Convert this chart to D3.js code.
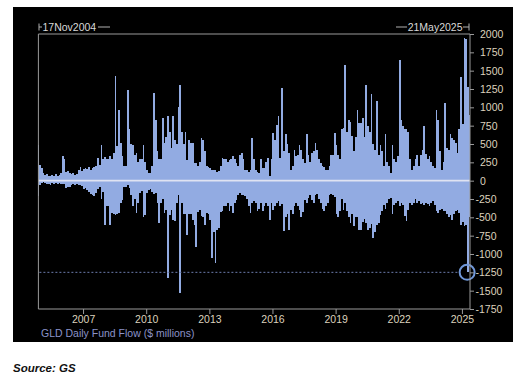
<!DOCTYPE html>
<html>
<head>
<meta charset="utf-8">
<script src="https://cdn.jsdelivr.net/npm/d3@7"></script>
<style>
  body { margin: 0; background: #fff; }
  svg { display: block; font-family: "Liberation Sans", Arial, sans-serif; }
</style>
</head>
<body>
<svg id="chart" width="527" height="388"></svg>
<script>
// GLD daily fund flow, $ millions. Read off the picture as the biggest
// inflow and the biggest outflow inside each month, Nov 2004 .. May 2025.
var firstDay = new Date(2004, 10, 17);
var lastDay = new Date(2025, 4, 21);

var inflowPeak = [
  480, 220,                                                       // 2004
  170, 100, 80, 90, 70, 60, 80, 60, 90, 70, 80, 100,              // 2005
  330, 300, 120, 130, 100, 90, 100, 80, 90, 150, 190, 130,        // 2006
  160, 170, 160, 190, 150, 170, 190, 200, 310, 220, 480, 290,     // 2007
  320, 300, 290, 330, 300, 380, 1430, 470, 970, 520, 330, 200,    // 2008
  200, 1230, 700, 500, 490, 350, 380, 250, 290, 300, 490, 250,    // 2009
  150, 100, 110, 200, 1200, 830, 400, 290, 290, 860, 510, 600,    // 2010
  880, 670, 450, 880, 560, 500, 1010, 1300, 670, 500, 670, 280,   // 2011
  560, 520, 510, 240, 240, 200, 250, 580, 560, 400, 200, 180,     // 2012
  170, 150, 140, 150, 120, 130, 200, 310, 290, 290, 250, 280,     // 2013
  300, 330, 300, 240, 200, 350, 380, 300, 150, 150, 120, 150,     // 2014
  580, 300, 150, 120, 100, 290, 170, 170, 250, 310, 60, 300,      // 2015
  650, 560, 760, 880, 310, 1270, 400, 630, 500, 380, 150, 200,    // 2016
  420, 330, 350, 490, 420, 300, 240, 640, 350, 250, 380, 400,     // 2017
  510, 420, 300, 240, 200, 180, 150, 140, 200, 350, 350, 650,     // 2018
  490, 350, 300, 700, 720, 1580, 670, 830, 800, 610, 400, 600,    // 2019
  970, 790, 790, 860, 600, 1300, 750, 670, 1180, 500, 420, 1080,  // 2020
  350, 490, 400, 200, 630, 250, 200, 100, 490, 300, 250, 330,     // 2021
  1640, 830, 740, 700, 700, 670, 300, 150, 200, 300, 350, 200,    // 2022
  350, 420, 740, 370, 300, 330, 260, 200, 170, 970, 830, 400,     // 2023
  150, 250, 1060, 450, 420, 630, 580, 550, 510, 380, 700, 1420,   // 2024
  770, 1950, 1930, 1280, 900                                      // 2025
];

var outflowPeak = [
  -215, -60,                                                          // 2004
  -30, -20, -30, -40, -40, -60, -30, -40, -30, -40, -30, -40,         // 2005
  -40, -50, -100, -90, -80, -60, -50, -60, -50, -60, -60, -70,        // 2006
  -110, -100, -130, -150, -180, -200, -215, -170, -120, -80, -250, -160,
  -600, -340, -340, -600, -440, -460, -470, -450, -440, -300, -260, -90,
  -80, -60, -100, -200, -350, -250, -440, -300, -170, -140, -490, -470,
  -170, -130, -120, -150, -180, -170, -300, -580, -300, -250, -440, -400,
  -1330, -470, -400, -530, -550, -300, -200, -1530, -300, -460, -460, -740,
  -460, -460, -530, -600, -900, -430, -400, -480, -500, -600, -440, -450,
  -530, -1060, -700, -1120, -670, -650, -430, -420, -350, -350, -300, -420,
  -350, -440, -300, -260, -200, -170, -190, -200, -210, -250, -350, -440,
  -300, -280, -300, -420, -380, -300, -420, -350, -300, -350, -530, -300,
  -400, -350, -310, -280, -350, -320, -690, -490, -450, -670, -400, -450,
  -350, -300, -350, -400, -490, -430, -260, -300, -240, -200, -260, -300,
  -200, -180, -250, -300, -380, -420, -350, -300, -200, -180, -200, -220,
  -460, -490, -420, -250, -400, -300, -420, -500, -580, -450, -620, -500,
  -490, -670, -670, -560, -520, -580, -670, -650, -590, -780, -700, -610,
  -580, -470, -420, -330, -380, -300, -250, -230, -460, -330, -300, -280,
  -350, -300, -330, -480, -550, -400, -300, -330, -300, -250, -300, -280,
  -320, -300, -330, -300, -320, -350, -300, -280, -330, -420, -440, -400,
  -380, -420, -420, -450, -500, -470, -530, -450, -420, -400, -440, -600,
  -560, -620, -600, -1250, -500                                       // 2025
];

var yTicks = [2000, 1750, 1500, 1250, 1000, 750, 500, 250, 0,
  -250, -500, -750, -1000, -1250, -1500, -1750];
var yearTicks = [2007, 2010, 2013, 2016, 2019, 2022, 2025];
var markLevel = -1250;
var markDate = new Date(2025, 3, 10);
var seriesLabel = 'GLD Daily Fund Flow ($ millions)';

function drawChart() {
  var months = d3.timeMonth.range(d3.timeMonth.floor(firstDay), lastDay);

  var svg = d3.select('#chart');

  // Black panel behind the chart.
  svg.append('rect')
    .attr('x', 13).attr('y', 7)
    .attr('width', 500).attr('height', 335)
    .attr('fill', '#000');

  var plotLeft = 38.4, plotRight = 470, plotTop = 34, plotBottom = 309;

  var x = d3.scaleTime()
    .domain([firstDay, lastDay])
    .range([plotLeft, plotRight]);

  var y = d3.scaleLinear()
    .domain([-1750, 2000])
    .range([plotBottom, plotTop]);

  var barColor = '#92abe2';

  function barX(d) {
    return x(d < firstDay ? firstDay : d);
  }
  function barW(d) {
    var end = d3.timeMonth.offset(d, 1);
    if (end > lastDay) end = lastDay;
    return Math.max(1, x(end) - barX(d));
  }

  // crispEdges keeps the neighbouring bars from leaving seams between them.
  var bars = svg.append('g')
    .attr('class', 'bars')
    .attr('shape-rendering', 'crispEdges');

  bars.selectAll('rect.up')
    .data(months)
    .enter().append('rect')
      .attr('class', 'up')
      .attr('x', barX)
      .attr('width', barW)
      .attr('y', function(d, i) { return y(inflowPeak[i]); })
      .attr('height', function(d, i) { return y(0) - y(inflowPeak[i]); })
      .attr('fill', barColor);

  bars.selectAll('rect.down')
    .data(months)
    .enter().append('rect')
      .attr('class', 'down')
      .attr('x', barX)
      .attr('width', barW)
      .attr('y', y(0))
      .attr('height', function(d, i) { return y(outflowPeak[i]) - y(0); })
      .attr('fill', barColor);

  // Zero line.
  svg.append('line')
    .attr('x1', plotLeft).attr('x2', plotRight)
    .attr('y1', y(0)).attr('y2', y(0))
    .attr('stroke', '#dfe3f2').attr('stroke-width', 1.8);

  // Dashed level and the circle on the latest outflow.
  svg.append('line')
    .attr('x1', plotLeft + 1).attr('x2', x(markDate) - 8)
    .attr('y1', y(markLevel)).attr('y2', y(markLevel))
    .attr('stroke', '#6b7bab').attr('stroke-width', 1)
    .attr('stroke-dasharray', '2,2');

  svg.append('circle')
    .attr('cx', x(markDate) - 0.5).attr('cy', y(markLevel))
    .attr('r', 7.5)
    .attr('fill', 'none')
    .attr('stroke', '#7097d8').attr('stroke-width', 2);

  // Frame.
  svg.append('path')
    .attr('d', 'M' + plotLeft + ',' + plotTop + 'H' + plotRight + 'V' + plotBottom + 'H' + plotLeft + 'Z')
    .attr('fill', 'none')
    .attr('stroke', '#9a9a9a').attr('stroke-width', 1);

  var labelColor = '#ddd2bd';

  // Right value axis.
  var yAxis = svg.append('g')
    .attr('transform', 'translate(' + plotRight + ',0)')
    .call(d3.axisRight(y)
      .tickValues(yTicks)
      .tickSize(4)
      .tickPadding(6)
      .tickFormat(function(d) { return String(d); }));
  yAxis.select('.domain').remove();
  yAxis.selectAll('line').attr('stroke', '#9a9a9a');
  yAxis.selectAll('text')
    .attr('fill', labelColor)
    .style('font-size', '10.5px')
    .attr('dx', function(d) { return d < 0 ? -4.5 : 0; });

  // Bottom year axis.
  var xAxis = svg.append('g')
    .attr('transform', 'translate(0,' + plotBottom + ')')
    .call(d3.axisBottom(x)
      .tickValues(yearTicks.map(function(yr) { return new Date(yr, 0, 1); }))
      .tickSize(5)
      .tickPadding(2)
      .tickFormat(d3.timeFormat('%Y')));
  xAxis.select('.domain').remove();
  xAxis.selectAll('line').attr('stroke', '#9a9a9a');
  xAxis.selectAll('text')
    .attr('fill', labelColor)
    .style('font-size', '10.5px');

  // Series caption.
  svg.append('text')
    .attr('x', 41).attr('y', 337)
    .attr('fill', '#8b93c9')
    .style('font-size', '10.5px')
    .text(seriesLabel);

  // Date range markers above the frame.
  var rangeY = 27;
  var rangeG = svg.append('g')
    .attr('stroke', '#b0b0b0').attr('stroke-width', 1);
  rangeG.append('line').attr('x1', 39).attr('x2', 39).attr('y1', rangeY - 3.5).attr('y2', rangeY + 3.5);
  rangeG.append('line').attr('x1', 39).attr('x2', 42).attr('y1', rangeY).attr('y2', rangeY);
  rangeG.append('line').attr('x1', 98).attr('x2', 110).attr('y1', rangeY).attr('y2', rangeY);
  rangeG.append('line').attr('x1', 396).attr('x2', 407).attr('y1', rangeY).attr('y2', rangeY);
  rangeG.append('line').attr('x1', 463).attr('x2', 469).attr('y1', rangeY).attr('y2', rangeY);
  rangeG.append('line').attr('x1', 469).attr('x2', 469).attr('y1', rangeY - 3.5).attr('y2', rangeY + 3.5);

  svg.append('text')
    .attr('x', 42.5).attr('y', rangeY + 4)
    .attr('fill', '#d8d8d8')
    .style('font-size', '10.5px')
    .text(d3.timeFormat('%d%b%Y')(firstDay));

  svg.append('text')
    .attr('x', 462.5).attr('y', rangeY + 4)
    .attr('text-anchor', 'end')
    .attr('fill', '#d8d8d8')
    .style('font-size', '10.5px')
    .text(d3.timeFormat('%d%b%Y')(lastDay));

  // Source line under the panel.
  svg.append('text')
    .attr('x', 13).attr('y', 372)
    .attr('fill', '#111')
    .style('font-family', '"Liberation Sans Narrow", "Arial Narrow", sans-serif')
    .style('font-weight', '900')
    .style('font-style', 'italic')
    .style('font-size', '11.5px')
    .text('Source: GS');
}

drawChart();
</script>
</body>
</html>
